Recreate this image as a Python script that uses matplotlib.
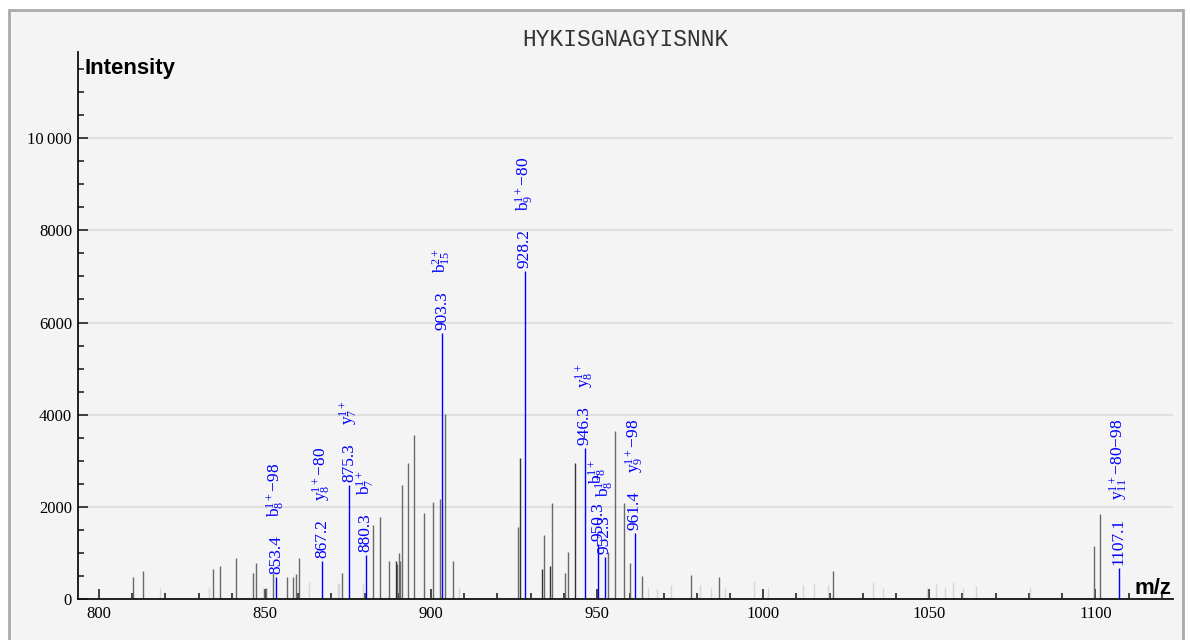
import matplotlib
matplotlib.use("Agg")
import matplotlib.pyplot as plt
from matplotlib.patches import Rectangle
from matplotlib.ticker import MultipleLocator, FixedLocator, FixedFormatter

plt.rcParams['mathtext.fontset'] = 'custom'
plt.rcParams['mathtext.rm'] = 'Liberation Serif'
plt.rcParams['mathtext.it'] = 'Liberation Serif:italic'
plt.rcParams['mathtext.default'] = 'regular'

SERIF = ['Liberation Serif', 'DejaVu Serif']

title = "HYKISGNAGYISNNK"

# ---- annotated (matched) fragment peaks ----
ann_mz = [853.4, 867.2, 875.3, 880.3, 903.3, 928.2, 946.3, 950.3, 952.3, 961.4, 1107.1]
ann_int = [480, 820, 2470, 950, 5780, 7110, 3280, 1200, 910, 1430, 670]
ann_ion = [r"$b_{8}^{1+}$−98", r"$y_{8}^{1+}$−80", r"$y_{7}^{1+}$", r"$b_{7}^{1+}$",
           r"$b_{15}^{2+}$", r"$b_{9}^{1+}$−80", r"$y_{8}^{1+}$", r"$b_{8}^{1+}$",
           r"$b_{8}^{1+}$", r"$y_{9}^{1+}$−98", r"$y_{11}^{1+}$−80−98"]

# ---- unmatched peaks (medium gray) ----
mid_mz = [810.2, 813.2, 834.3, 836.4, 841.3, 846.3, 847.3, 850.2, 852.5, 856.7, 858.5,
          859.2, 860.3, 873.1, 882.4, 884.7, 887.2, 889.6, 890.2, 890.7, 891.2, 893.2,
          894.9, 897.9, 900.7, 902.7, 904.3, 906.7, 926.1, 934.0, 936.3, 940.2, 941.2,
          953.3, 955.25, 958.1, 959.9, 963.5, 978.4, 986.6, 1021.1, 1099.6, 1101.3]
mid_int = [470, 600, 650, 715, 890, 560, 780, 240, 560, 480, 480,
           540, 900, 560, 1600, 1790, 830, 760, 1000, 830, 2470, 2950,
           3560, 1865, 2100, 2170, 4010, 830, 1570, 1390, 2075, 570, 1010,
           1030, 3650, 2080, 775, 500, 520, 480, 610, 1150, 1840]

# ---- unmatched peaks (dark) ----
dark_mz = [889.3, 926.65, 933.4, 935.8, 943.2]
dark_int = [830, 3050, 650, 715, 2960]

# ---- faint peaks (light gray) ----
light_mz = [818.3, 833.1, 849.5, 863.3, 871.9, 872.4, 879.6, 908.3, 965.2, 968.1, 972.1,
            981.1, 984.2, 988.4, 997.2, 1001.4, 1012.1, 1015.2, 1019.6, 1033.1, 1036.0,
            1049.2, 1052.0, 1054.6, 1057.1, 1060.3, 1064.1, 1080.3]
light_int = [240, 260, 240, 370, 350, 330, 350, 270, 230, 210, 300,
             300, 230, 230, 390, 230, 300, 320, 300, 375, 230,
             230, 320, 260, 360, 240, 290, 255]

xtick_vals = [800, 850, 900, 950, 1000, 1050, 1100]
xtick_labels = ["800", "850", "900", "950", "1000", "1050", "1100"]
ytick_vals = [0, 2000, 4000, 6000, 8000, 10000]
ytick_labels = ["0", "2000", "4000", "6000", "8000", "10\u2009000"]

W, H = 1190, 640
fig = plt.figure(figsize=(W / 100, H / 100), dpi=100, facecolor='white')

# panel background with border
fig.patches.append(Rectangle((8.5 / W, -0.1), (1182.5 - 8.5) / W, 1 - 10 / H + 0.1,
                             transform=fig.transFigure, facecolor='#f4f4f4',
                             edgecolor='#aaaaaa', linewidth=2.0, zorder=-5))

ax = fig.add_axes([78 / W, 41 / H, (1172.7 - 78) / W, (599 - 52) / H])
ax.set_facecolor('none')
ax.set_xlim(793.7, 1123.3)
ax.set_ylim(0, 11870)

ax.vlines(light_mz, 0, light_int, colors='#d6d6d6', linewidth=1.0, zorder=2)
ax.vlines(mid_mz, 0, mid_int, colors='#6a6a6a', linewidth=1.0, zorder=3)
ax.vlines(dark_mz, 0, dark_int, colors='#333333', linewidth=1.0, zorder=3)
ax.vlines(ann_mz, 0, ann_int, colors='#0000ff', linewidth=1.0, zorder=4)

for s in ['top', 'right']:
    ax.spines[s].set_visible(False)
for s in ['left', 'bottom']:
    ax.spines[s].set_linewidth(1.3)
    ax.spines[s].set_color('#111111')
    ax.spines[s].set_zorder(6)

ax.xaxis.set_major_locator(FixedLocator(xtick_vals))
ax.xaxis.set_major_formatter(FixedFormatter(xtick_labels))
ax.xaxis.set_minor_locator(MultipleLocator(10))
ax.yaxis.set_major_locator(FixedLocator(ytick_vals))
ax.yaxis.set_major_formatter(FixedFormatter(ytick_labels))
ax.yaxis.set_minor_locator(MultipleLocator(500))

ax.tick_params(axis='both', which='major', direction='in', length=7.5, width=1.1,
               color='#111111', labelsize=12, pad=5)
ax.tick_params(axis='both', which='minor', direction='in', length=4.5, width=1.1,
               color='#111111')
ax.tick_params(axis='y', which='major', pad=4.3)
for lab in ax.get_xticklabels() + ax.get_yticklabels():
    lab.set_family(SERIF)

ax.yaxis.grid(True, which='major', color='#e0e0e0', linewidth=1.5, zorder=1)
ax.set_axisbelow(True)

# titles
fig.text(625.4 / W, 1 - 46.5 / H, title, ha='center', va='baseline',
         family='Liberation Mono', fontsize=16.5, color='#333333')
fig.text(85 / W, 1 - 74.3 / H, 'Intensity', ha='left', va='baseline',
         family=['Liberation Sans', 'DejaVu Sans'], fontweight='bold', fontsize=16)
fig.text(1171.7 / W, 1 - 594.3 / H, 'm/z', ha='right', va='baseline',
         family=['Liberation Sans', 'DejaVu Sans'], fontweight='bold', fontsize=16)

# annotations
renderer = fig.canvas.get_renderer()
for mz, it, ion in zip(ann_mz, ann_int, ann_ion):
    t = ax.annotate(f"{mz:.1f}", xy=(mz, it), xytext=(0, 2.2), textcoords='offset points',
                    rotation=90, ha='center', va='bottom', color='#0000ff',
                    fontsize=12.5, family=SERIF, zorder=5)
    h = t.get_window_extent(renderer).height
    off = 2.2 + (h + 18) * 72 / fig.dpi
    ax.annotate(ion, xy=(mz, it), xytext=(0, off), textcoords='offset points',
                rotation=90, ha='center', va='bottom', color='#0000ff',
                fontsize=12.5, family=SERIF, zorder=5)

fig.savefig('out.png', dpi=100, facecolor='white')
